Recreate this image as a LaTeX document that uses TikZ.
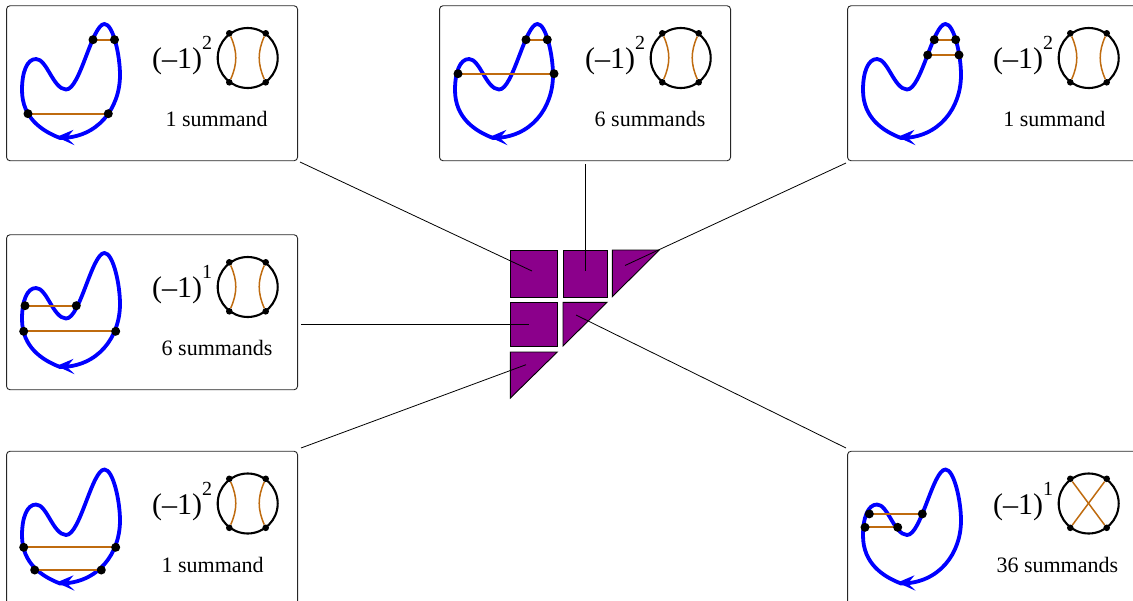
\documentclass[tikz,border=0pt]{standalone}
\usepackage{fontspec}
\setmainfont{Liberation Serif}
\definecolor{chordc}{RGB}{191,107,15}
\definecolor{cellc}{RGB}{139,0,139}
\tikzset{
  panelbox/.style={draw=black!85,line width=.9pt,rounded corners=3.5pt,anchor=north west,minimum width=291pt,minimum height=155pt,inner sep=0pt},
  blob/.style={draw=blue,line width=3.8pt},
  tipc/.style={fill=blue,draw=none},
  chord/.style={draw=chordc,line width=1.8pt},
  dotb/.style={circle,fill=black,draw=none,minimum size=9pt,inner sep=0pt},
  dots/.style={circle,fill=black,draw=none,minimum size=6.6pt,inner sep=0pt},
  ring/.style={circle,draw=black,line width=2.1pt,minimum size=60pt,inner sep=0pt},
  inner/.style={draw=chordc,line width=1.5pt},
  exprt/.style={anchor=base west,inner sep=0pt,font=\fontsize{30}{31}\selectfont},
  sumt/.style={anchor=base,inner sep=0pt,font=\fontsize{22}{24}\selectfont},
  cell/.style={fill=cellc,draw=black,line width=.9pt},
  cellb/.style={cell,minimum width=47pt,minimum height=46.5pt,inner sep=0pt,anchor=north west},
  conn/.style={draw=black,line width=.8pt}
}
\newcommand{\chordpair}[3]{%
  \draw[chord] (#2) -- (#3);
  \node[dotb] (#1a) at (#2) {};
  \node[dotb] (#1b) at (#3) {};
}
\newcommand{\panelcommon}[2]{%
  \node[panelbox] (#1) at (6.1,5.3) {};
  \draw[blob] (60,138) .. controls (42,131) and (22,118) .. (22,90)
     .. controls (22,72) and (27,59) .. (36,59)
     .. controls (47,59) and (53,89) .. (66,89.5)
     .. controls (80,90) and (92,24) .. (104.5,24)
     .. controls (113,24) and (120,55) .. (120,75)
     .. controls (120,108) and (98,138) .. (60,138) -- cycle;
  \coordinate (#1tip) at (56.5,137);
  \coordinate (#1bt) at (73.5,129.8);
  \coordinate (#1bb) at (74.5,145.2);
  \coordinate (#1nt) at (67,137.8);
  \fill[tipc] (#1tip) -- (#1bt) -- (#1nt) -- (#1bb) -- cycle;
  \node[exprt] (#1e) at (152,68.5) {(–1)\raisebox{19pt}{\fontsize{20}{20}\selectfont #2}};
  \node[ring] (#1r) at (247.7,58) {};
  \node[dots] (#1q1) at (229.3,33.3) {};
  \node[dots] (#1q2) at (265.7,33.3) {};
  \node[dots] (#1q3) at (229.3,82.3) {};
  \node[dots] (#1q4) at (265.7,82.3) {};
}
\newcommand{\sumlabel}[4]{\node[sumt] (#1t) at (#2,#3) {#4};}
\newcommand{\parallelchords}[1]{%
  \draw[inner] (#1q1) to[bend left=24] (#1q3);
  \draw[inner] (#1q2) to[bend right=24] (#1q4);
}
\begin{document}
\begin{tikzpicture}[x=1pt,y=-1pt]
\useasboundingbox (0,0) rectangle (1133,600);
\clip (0,0) rectangle (1133,600);
\begin{scope}[shift={(0,0)}]
  \panelcommon{pa}{2}
  \parallelchords{pa}
  \chordpair{pax}{93,39.7}{114.5,39.7}
  \chordpair{pay}{28,113.7}{108.3,113.7}
  \sumlabel{pa}{216.7}{126}{1 summand}
\end{scope}
\begin{scope}[shift={(433,0)}]
  \panelcommon{pb}{2}
  \parallelchords{pb}
  \chordpair{pbx}{93,39.7}{114.3,39.7}
  \chordpair{pby}{25,73.7}{121,73.7}
  \sumlabel{pb}{217}{126}{6 summands}
\end{scope}
\begin{scope}[shift={(841,0)}]
  \panelcommon{pc}{2}
  \parallelchords{pc}
  \chordpair{pcx}{93.3,39.7}{114.7,39.7}
  \chordpair{pcy}{86.7,55}{118,55}
  \sumlabel{pc}{213.3}{126}{1 summand}
\end{scope}
\begin{scope}[shift={(0,229)}]
  \panelcommon{pd}{1}
  \parallelchords{pd}
  \chordpair{pdx}{25,76.7}{76.3,76.7}
  \chordpair{pdy}{23.7,102.3}{115.7,102.3}
  \sumlabel{pd}{217}{126}{6 summands}
\end{scope}
\begin{scope}[shift={(0,445.5)}]
  \panelcommon{pe}{2}
  \parallelchords{pe}
  \chordpair{pex}{23.7,101.8}{115.7,101.8}
  \chordpair{pey}{34.7,124.5}{101.3,124.5}
  \sumlabel{pe}{212.7}{126.5}{1 summand}
\end{scope}
\begin{scope}[shift={(841,445.5)}]
  \panelcommon{pf}{1}
  \draw[inner] (pfq1) -- (pfq4);
  \draw[inner] (pfq2) -- (pfq3);
  \chordpair{pfx}{28.3,68.4}{81.3,68.4}
  \chordpair{pfy}{24,81.8}{56.7,81.8}
  \sumlabel{pf}{216.3}{126.5}{36 summands}
\end{scope}
\node[cellb] (c11) at (510.4,250) {};
\node[cellb,minimum width=44pt] (c12) at (563,250) {};
\coordinate (t13a) at (612.3,250);
\coordinate (t13b) at (659.3,250);
\coordinate (t13c) at (612.3,296.7);
\filldraw[cell] (t13a) -- (t13b) -- (t13c) -- cycle;
\node[cellb,minimum height=44pt] (c21) at (510.4,302.3) {};
\coordinate (t22a) at (563,302.3);
\coordinate (t22b) at (607,302.3);
\coordinate (t22c) at (563,346);
\filldraw[cell] (t22a) -- (t22b) -- (t22c) -- cycle;
\coordinate (t31a) at (510.4,352);
\coordinate (t31b) at (557.3,352);
\coordinate (t31c) at (510.4,398);
\filldraw[cell] (t31a) -- (t31b) -- (t31c) -- cycle;
\coordinate (sa) at (300,162);\coordinate (ea) at (532,271);
\coordinate (sb) at (585,164);\coordinate (eb) at (585,271);
\coordinate (sc) at (846,163);\coordinate (ec) at (625,265.5);
\coordinate (sd) at (301,324.3);\coordinate (ed) at (529,324.3);
\coordinate (se) at (301,448);\coordinate (ee) at (526,364.7);
\coordinate (sf) at (846,448);\coordinate (ef) at (576,315);
\foreach \k in {a,b,c,d,e,f} {\draw[conn] (s\k) -- (e\k);}
\end{tikzpicture}
\end{document}
